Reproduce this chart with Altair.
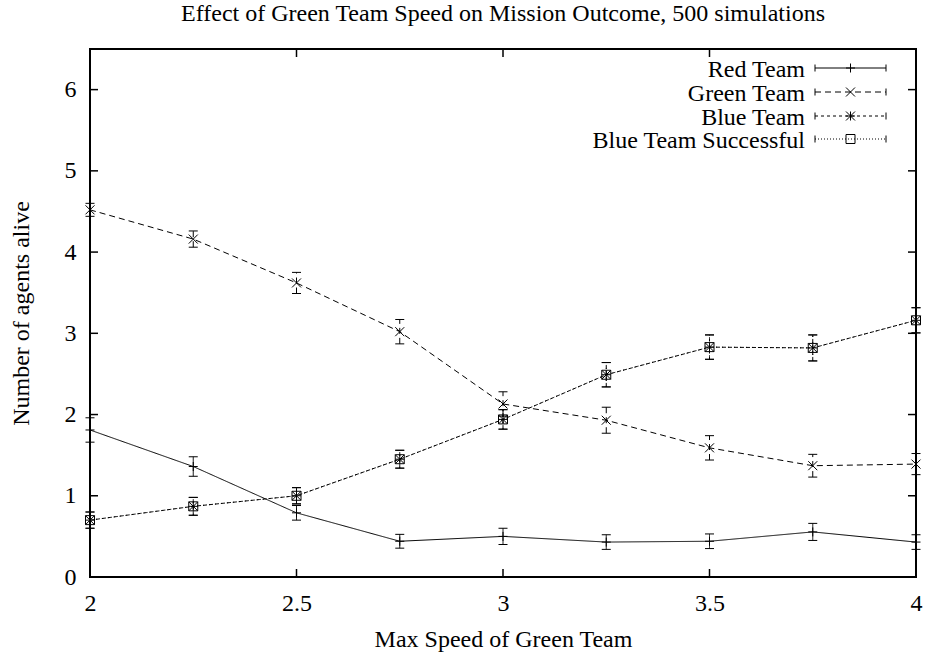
import altair as alt
import pandas as pd

# Max speed of the green team (x) and mean agents alive per team, with error half-widths
speed = [2.0, 2.25, 2.5, 2.75, 3.0, 3.25, 3.5, 3.75, 4.0]

red_alive = [1.81, 1.36, 0.79, 0.44, 0.50, 0.43, 0.44, 0.555, 0.43]
red_err = [0.15, 0.12, 0.09, 0.085, 0.10, 0.09, 0.09, 0.105, 0.09]

green_alive = [4.52, 4.16, 3.62, 3.02, 2.13, 1.93, 1.59, 1.37, 1.39]
green_err = [0.08, 0.10, 0.13, 0.15, 0.15, 0.16, 0.15, 0.14, 0.13]

blue_alive = [0.70, 0.87, 1.00, 1.45, 1.94, 2.49, 2.83, 2.82, 3.16]
blue_err = [0.10, 0.11, 0.10, 0.11, 0.12, 0.15, 0.15, 0.16, 0.155]

success_alive = [0.70, 0.87, 1.00, 1.45, 1.94, 2.49, 2.83, 2.82, 3.16]
success_err = [0.10, 0.11, 0.10, 0.11, 0.12, 0.15, 0.15, 0.16, 0.155]

x_ticks = [2, 2.5, 3, 3.5, 4]
y_ticks = [0, 1, 2, 3, 4, 5, 6]

FONT = "Liberation Serif"
W, H = 826, 528

PLUS = "M-1,0L1,0M0,-1L0,1"
CROSS = "M-1,-1L1,1M-1,1L1,-1"
STAR = "M-1,0L1,0M0,-1L0,1M-1,-1L1,1M-1,1L1,-1"

series = [
    ("Red Team", red_alive, red_err, [1, 0], PLUS),
    ("Green Team", green_alive, green_err, [6, 4], CROSS),
    ("Blue Team", blue_alive, blue_err, [3, 3], STAR),
    ("Blue Team Successful", success_alive, success_err, [1, 2], "square"),
]

x_scale = alt.Scale(domain=[2, 4], nice=False, zero=False)
y_scale = alt.Scale(domain=[0, 6.5], nice=False, zero=True)

x_axis = alt.Axis(values=x_ticks, format="~g", title="Max Speed of Green Team",
                  labelFlush=False, labelOverlap=False, labelPadding=14,
                  titleY=69, titleBaseline="alphabetic")
y_axis = alt.Axis(values=y_ticks, format="d", title="Number of agents alive",
                  labelPadding=14, titleAngle=270, titleX=-62, titleY=H / 2,
                  titleBaseline="alphabetic", titleAlign="center")


def X(field):
    return alt.X(field, scale=x_scale, axis=x_axis)


def Y(field):
    return alt.Y(field, scale=y_scale, axis=y_axis)


layers = []
legend_rows = [19, 43, 67, 90]

for i, (name, vals, errs, dash, shape) in enumerate(series):
    df = pd.DataFrame({
        "speed": speed,
        "alive": vals,
        "lo": [v - e for v, e in zip(vals, errs)],
        "hi": [v + e for v, e in zip(vals, errs)],
    })
    base = alt.Chart(df)

    line = base.mark_line(color="black", strokeWidth=1, strokeDash=dash).encode(
        x=X("speed:Q"), y=Y("alive:Q"))
    bar = base.mark_rule(color="black", strokeWidth=1, strokeDash=dash).encode(
        x=X("speed:Q"), y=Y("lo:Q"), y2="hi:Q")
    cap_lo = base.mark_rule(color="black", strokeWidth=1, xOffset=-4.5, x2Offset=4.5).encode(
        x=X("speed:Q"), x2="speed:Q", y=Y("lo:Q"))
    cap_hi = base.mark_rule(color="black", strokeWidth=1, xOffset=-4.5, x2Offset=4.5).encode(
        x=X("speed:Q"), x2="speed:Q", y=Y("hi:Q"))
    pts = base.mark_point(shape=shape, filled=False, size=81, strokeWidth=1,
                          color="black", opacity=1).encode(
        x=X("speed:Q"), y=Y("alive:Q"))
    layers += [line, bar, cap_lo, cap_hi, pts]

    # key entry: label, sample line with end caps, marker
    ly = legend_rows[i]
    key = alt.Chart(pd.DataFrame({"label": [name]}))
    layers.append(key.mark_text(font=FONT, fontSize=24, align="right", baseline="alphabetic",
                                color="black").encode(
        text="label:N", x=alt.value(715), y=alt.value(ly + 9)))
    layers.append(key.mark_rule(color="black", strokeWidth=1, strokeDash=dash).encode(
        x=alt.value(725), x2=alt.value(796), y=alt.value(ly)))
    layers.append(key.mark_rule(color="black", strokeWidth=1).encode(
        x=alt.value(725), y=alt.value(ly - 3.5), y2=alt.value(ly + 3.5)))
    layers.append(key.mark_rule(color="black", strokeWidth=1).encode(
        x=alt.value(796), y=alt.value(ly - 3.5), y2=alt.value(ly + 3.5)))
    layers.append(key.mark_point(shape=shape, filled=False, size=81, strokeWidth=1,
                                 color="black", opacity=1).encode(
        x=alt.value(760.5), y=alt.value(ly)))

# inward tick marks on all four sides
xt = alt.Chart(pd.DataFrame({"t": x_ticks}))
yt = alt.Chart(pd.DataFrame({"t": y_ticks}))
layers += [
    xt.mark_rule(color="black", strokeWidth=1.5).encode(x=X("t:Q"), y=alt.value(H), y2=alt.value(H - 8)),
    xt.mark_rule(color="black", strokeWidth=1.5).encode(x=X("t:Q"), y=alt.value(0), y2=alt.value(8)),
    yt.mark_rule(color="black", strokeWidth=1.5).encode(y=Y("t:Q"), x=alt.value(0), x2=alt.value(8)),
    yt.mark_rule(color="black", strokeWidth=1.5).encode(y=Y("t:Q"), x=alt.value(W), x2=alt.value(W - 8)),
]

chart = alt.layer(*layers).properties(
    width=W,
    height=H,
    background="white",
    title=alt.Title("Effect of Green Team Speed on Mission Outcome, 500 simulations",
                    font=FONT, fontSize=24, fontWeight="normal", color="black",
                    anchor="middle", baseline="alphabetic", offset=3),
    autosize=alt.AutoSizeParams(type="none"),
    padding={"left": 90, "top": 49, "right": 9, "bottom": 77},
).configure_view(
    stroke="black", strokeWidth=2
).configure_axis(
    grid=False, domain=False, ticks=False, tickSize=0,
    labelFont=FONT, labelFontSize=24, labelColor="black",
    titleFont=FONT, titleFontSize=24, titleFontWeight="normal", titleColor="black",
)

chart.save("out.html", embed_options={"renderer": "svg", "actions": False})
